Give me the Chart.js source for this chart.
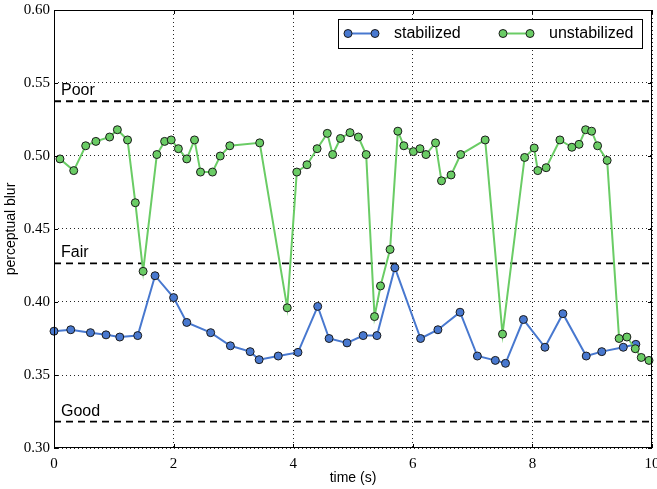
<!DOCTYPE html>
<html>
<head>
<meta charset="utf-8">
<script src="https://cdn.jsdelivr.net/npm/chart.js@4.4.1/dist/chart.umd.min.js"></script>
<style>
  body { margin: 0; background: #fff; }
  #grafico { display: block; }
</style>
</head>
<body>
<canvas id="grafico" width="657" height="489"></canvas>
<script>
// tempos (s) e valores
const tempoEstab = [0.00, 0.28, 0.61, 0.87, 1.10, 1.40, 1.69, 2.00, 2.22, 2.62, 2.95, 3.28, 3.43, 3.75, 4.08, 4.41, 4.60, 4.90, 5.17, 5.40, 5.70, 6.13, 6.42, 6.79, 7.08, 7.38, 7.55, 7.85, 8.21, 8.51, 8.90, 9.16, 9.52, 9.73];
const blurEstab = [0.380, 0.381, 0.379, 0.3775, 0.376, 0.377, 0.418, 0.403, 0.386, 0.379, 0.370, 0.366, 0.3605, 0.363, 0.3655, 0.397, 0.375, 0.372, 0.377, 0.377, 0.4235, 0.375, 0.381, 0.393, 0.363, 0.360, 0.358, 0.388, 0.369, 0.392, 0.363, 0.366, 0.369, 0.371];

const tempoNaoEstab = [0.10, 0.33, 0.53, 0.70, 0.93, 1.06, 1.23, 1.36, 1.49, 1.72, 1.85, 1.96, 2.08, 2.22, 2.35, 2.45, 2.65, 2.78, 2.94, 3.44, 3.90, 4.06, 4.23, 4.40, 4.57, 4.66, 4.79, 4.95, 5.09, 5.22, 5.36, 5.46, 5.62, 5.75, 5.85, 6.01, 6.12, 6.22, 6.38, 6.48, 6.64, 6.80, 7.21, 7.50, 7.87, 8.03, 8.09, 8.23, 8.46, 8.66, 8.78, 8.89, 8.99, 9.09, 9.25, 9.45, 9.58, 9.72, 9.82, 9.95];
const blurNaoEstab = [0.498, 0.490, 0.507, 0.510, 0.513, 0.518, 0.511, 0.468, 0.421, 0.501, 0.510, 0.511, 0.505, 0.498, 0.511, 0.489, 0.489, 0.500, 0.507, 0.509, 0.396, 0.489, 0.494, 0.505, 0.5155, 0.501, 0.512, 0.516, 0.513, 0.501, 0.390, 0.411, 0.436, 0.517, 0.507, 0.503, 0.505, 0.501, 0.509, 0.483, 0.487, 0.501, 0.511, 0.378, 0.499, 0.5055, 0.490, 0.492, 0.511, 0.506, 0.508, 0.518, 0.517, 0.507, 0.497, 0.375, 0.376, 0.368, 0.362, 0.360];

const nomesSeries = ['stabilized', 'unstabilized'];
const nomesNiveis = ['Poor', 'Fair', 'Good'];
const limitesNiveis = [0.5375, 0.4265, 0.318];
const ticksX = [0, 2, 4, 6, 8, 10];
const ticksY = [0.30, 0.35, 0.40, 0.45, 0.50, 0.55, 0.60];

const corAzul = '#4878CF';
const corVerde = '#6ACC65';

function pontos(xs, ys) {
    return xs.map((x, i) => ({ x: x, y: ys[i] }));
}

var datasets = [
    {
        label: nomesSeries[1], data: pontos(tempoNaoEstab, blurNaoEstab), order: 0,
        borderColor: corVerde, backgroundColor: corVerde, borderWidth: 2,
        pointRadius: 4, pointBorderColor: '#1a1a1a', pointBorderWidth: 1, clip: false
    },
    {
        label: nomesSeries[0], data: pontos(tempoEstab, blurEstab), order: 1,
        borderColor: corAzul, backgroundColor: corAzul, borderWidth: 2,
        pointRadius: 4, pointBorderColor: '#1a1a1a', pointBorderWidth: 1, clip: false
    }
];
limitesNiveis.forEach(function (v, i) {
    datasets.push({
        label: nomesNiveis[i], data: [{ x: 0, y: v }, { x: 10, y: v }], order: 2,
        borderColor: '#000', borderWidth: 1.8, borderDash: [7, 5], pointRadius: 0
    });
});

// moldura, ticks internos, rotulos e legenda ao estilo matplotlib
const extras = {
    id: 'extras',
    afterDraw(chart) {
        const ctx = chart.ctx;
        const a = chart.chartArea;
        const sx = chart.scales.x, sy = chart.scales.y;
        ctx.save();
        ctx.strokeStyle = '#000';
        ctx.lineWidth = 1;
        ctx.strokeRect(a.left + 0.5, a.top + 0.5, a.right - a.left - 1, a.bottom - a.top - 1);
        ctx.beginPath();
        ticksX.forEach(function (t) {
            const px = Math.round(sx.getPixelForValue(t)) + 0.5;
            ctx.moveTo(px, a.bottom); ctx.lineTo(px, a.bottom - 4);
            ctx.moveTo(px, a.top); ctx.lineTo(px, a.top + 4);
        });
        ticksY.forEach(function (t) {
            const py = Math.round(sy.getPixelForValue(t)) + 0.5;
            ctx.moveTo(a.left, py); ctx.lineTo(a.left + 4, py);
            ctx.moveTo(a.right, py); ctx.lineTo(a.right - 4, py);
        });
        ctx.stroke();

        // rotulos dos niveis
        ctx.fillStyle = '#000';
        ctx.font = '16px "Liberation Sans", Arial, sans-serif';
        ctx.textAlign = 'left';
        ctx.textBaseline = 'alphabetic';
        limitesNiveis.forEach(function (v, i) {
            ctx.fillText(nomesNiveis[i], a.left + 7, sy.getPixelForValue(v) - 6);
        });

        // titulos dos eixos
        ctx.font = '14px "Liberation Sans", Arial, sans-serif';
        ctx.textAlign = 'center';
        ctx.textBaseline = 'middle';
        ctx.fillText('time (s)', (a.left + a.right) / 2, 478);
        ctx.translate(11, (a.top + a.bottom) / 2);
        ctx.rotate(-Math.PI / 2);
        ctx.fillText('perceptual blur', 0, 0);
        ctx.restore();

        // legenda
        ctx.save();
        ctx.fillStyle = '#fff';
        ctx.fillRect(338, 19, 304, 29);
        ctx.strokeStyle = '#000';
        ctx.lineWidth = 1;
        ctx.strokeRect(338.5, 19.5, 304, 29);
        const itens = [
            { nome: nomesSeries[0], cor: corAzul, x0: 348 },
            { nome: nomesSeries[1], cor: corVerde, x0: 503 }
        ];
        const yl = 33.5;
        itens.forEach(function (it) {
            ctx.strokeStyle = it.cor;
            ctx.lineWidth = 2;
            ctx.beginPath();
            ctx.moveTo(it.x0, yl); ctx.lineTo(it.x0 + 27, yl);
            ctx.stroke();
            [it.x0, it.x0 + 27].forEach(function (cx) {
                ctx.beginPath();
                ctx.arc(cx, yl, 4, 0, Math.PI * 2);
                ctx.fillStyle = it.cor;
                ctx.fill();
                ctx.strokeStyle = '#1a1a1a';
                ctx.lineWidth = 1;
                ctx.stroke();
            });
            ctx.fillStyle = '#000';
            ctx.font = '16px "Liberation Sans", Arial, sans-serif';
            ctx.textAlign = 'left';
            ctx.textBaseline = 'middle';
            ctx.fillText(it.nome, it.x0 + 46, yl);
        });
        ctx.restore();
    }
};

new Chart(document.getElementById('grafico').getContext('2d'), {
    type: 'line',
    data: { datasets: datasets },
    options: {
        responsive: false,
        animation: false,
        layout: { padding: { top: 10, right: 5, left: 0, bottom: 0 } },
        plugins: { legend: { display: false }, tooltip: { enabled: false } },
        scales: {
            x: {
                type: 'linear', min: 0, max: 10,
                afterBuildTicks: function (s) { s.ticks = ticksX.map(v => ({ value: v })); },
                afterFit: function (s) { s.height = 41; s.paddingLeft = 0; s.paddingRight = 0; },
                border: { display: false, dash: [1, 3] },
                grid: { color: 'rgba(0,0,0,0.85)', lineWidth: 1, drawTicks: false },
                ticks: { padding: 7, color: '#000', maxRotation: 0, font: { family: '"Liberation Serif", serif', size: 15 } }
            },
            y: {
                min: 0.30, max: 0.60,
                afterBuildTicks: function (s) { s.ticks = ticksY.map(v => ({ value: v })); },
                afterFit: function (s) { s.width = 54; s.paddingTop = 0; s.paddingBottom = 0; },
                border: { display: false, dash: [1, 3] },
                grid: { color: 'rgba(0,0,0,0.85)', lineWidth: 1, drawTicks: false },
                ticks: {
                    padding: 4, color: '#000',
                    font: { family: '"Liberation Serif", serif', size: 15 },
                    callback: function (v) { return v.toFixed(2); }
                }
            }
        }
    },
    plugins: [extras]
});
</script>
</body>
</html>
